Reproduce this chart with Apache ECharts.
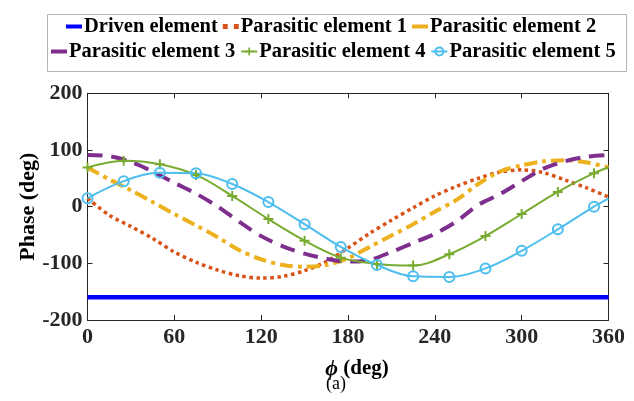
<!DOCTYPE html>
<html>
<head>
<meta charset="utf-8">
<script src="https://cdn.jsdelivr.net/npm/echarts@6/dist/echarts.min.js"></script>
<style>
  html, body { margin: 0; padding: 0; background: #fff; }
  #chart { width: 634px; height: 401px; }
</style>
</head>
<body>
<div id="chart"></div>
<script>
// phase vs. steering angle
const phiEnds = [0, 360]
const phiFine = [0, 15, 30, 45, 60, 75, 90, 105, 120, 135, 150, 165, 180, 195, 210, 225, 240, 255, 270, 285, 300, 315, 330, 345, 360]
const phiMarked = [0, 25, 50, 75, 100, 125, 150, 175, 200, 225, 250, 275, 300, 325, 350, 360]

const driven = [-160, -160]
const parasitic1 = [15, -15, -35, -56, -80, -98, -112, -122, -126, -123, -113, -97, -73, -47, -24, -2, 19, 36, 50, 61, 65, 60, 47, 33, 17]
const parasitic2 = [69, 48, 29, 8, -13, -33, -54, -77, -93, -103, -106, -103, -91, -71, -51, -31, -9, 12, 40, 62, 73, 80, 82, 78, 69]
const parasitic3 = [91, 89, 79, 62, 42, 23, 0, -27, -52, -70, -83, -92, -97, -94, -80, -64, -48, -26, 3, 22, 45, 67, 80, 88, 91]
const parasitic4 = [69, 81, 75, 56, 19, -22, -60, -90, -101, -104, -84, -52, -13, 26, 59, 69]
const parasitic5 = [15, 45, 60, 59, 40, 8, -31, -71, -103, -123, -124, -109, -78, -40, 0, 14]

const xTicks = [0, 60, 120, 180, 240, 300, 360]
const yTicks = [-200, -100, 0, 100, 200]

const seriesNames = ['Driven element', 'Parasitic element 1', 'Parasitic element 2',
  'Parasitic element 3', 'Parasitic element 4', 'Parasitic element 5']

const FONT = "'Liberation Serif', 'Times New Roman', serif"
const INK = '#262626'
const PLUS = 'path://M4,0H6V4H10V6H6V10H4V6H0V4H4Z'
const BAR = 'path://M0,0H16V4H0Z'
const DOTS = 'path://M0,0H4V4H0Z M9,0H13V4H9Z'

function pairs(xs, ys) {
  return xs.map((x, i) => [x, ys[i]])
}

// markers every 25 deg, none on the closing 360 point
function marked(xs, ys) {
  return xs.map((x, i) => x === 360 ? { value: [x, ys[i]], symbol: 'none' } : [x, ys[i]])
}

const chart = echarts.init(document.getElementById('chart'))

const legendText = { fontFamily: FONT, fontWeight: 'bold', fontSize: 20.5, color: '#000', padding: [0, 0, 0, -3] }

function axisBox(extra) {
  return Object.assign({
    axisLine: { show: true, onZero: false, lineStyle: { color: INK, width: 1 } },
    axisTick: { show: true, inside: true, length: 5, lineStyle: { color: INK } },
    splitLine: { show: false }
  }, extra)
}

chart.setOption({
  backgroundColor: '#fff',
  animation: false,
  textStyle: { fontFamily: FONT },
  legend: [
    {
      data: [
        { name: seriesNames[0], icon: BAR },
        { name: seriesNames[1], icon: DOTS },
        { name: seriesNames[2], icon: BAR }
      ],
      left: 66, top: 16, padding: 0,
      itemWidth: 16, itemHeight: 10, itemGap: 5,
      textStyle: legendText
    },
    {
      data: [
        { name: seriesNames[3], icon: BAR },
        { name: seriesNames[4] },
        { name: seriesNames[5] }
      ],
      left: 51, top: 41, padding: 0,
      itemWidth: 16, itemHeight: 10, itemGap: 5,
      textStyle: legendText
    }
  ],
  grid: { left: 87.5, right: 25.5, top: 93.3, bottom: 81 },
  xAxis: [
    axisBox({
      type: 'value', min: xTicks[0], max: xTicks[xTicks.length - 1], interval: 60,
      name: '{phi|ϕ} (deg)',
      nameLocation: 'middle', nameGap: 38, nameMoveOverlap: false,
      nameTextStyle: {
        fontFamily: FONT, fontWeight: 'bold', fontSize: 21, color: '#000', padding: [0, 0, 0, 18],
        rich: { phi: { fontFamily: FONT, fontStyle: 'italic', fontSize: 22, color: '#000' } }
      },
      axisLabel: { margin: 6, fontFamily: FONT, fontWeight: 'bold', fontSize: 22, color: INK }
    }),
    axisBox({
      type: 'value', position: 'top', min: 0, max: 360, interval: 60,
      axisLabel: { show: false }
    })
  ],
  yAxis: [
    axisBox({
      type: 'value', min: yTicks[0], max: yTicks[yTicks.length - 1], interval: 100,
      name: 'Phase (deg)',
      nameLocation: 'middle', nameGap: 48, nameMoveOverlap: false,
      nameTextStyle: { fontFamily: FONT, fontWeight: 'bold', fontSize: 22, color: '#000' },
      axisLabel: { margin: 5, fontFamily: FONT, fontWeight: 'bold', fontSize: 22, color: INK }
    }),
    axisBox({
      type: 'value', position: 'right', min: -200, max: 200, interval: 100,
      axisLabel: { show: false }
    })
  ],
  graphic: [
    {
      type: 'rect', left: 45, top: 12, silent: true,
      shape: { width: 579, height: 57 },
      style: { fill: 'none', stroke: '#b4b4b4', lineWidth: 1 }
    },
    {
      type: 'text', left: 326, top: 375,
      style: { text: '(a)', font: "18px 'Liberation Serif', serif", fill: '#000' }
    }
  ],
  series: [
    {
      name: seriesNames[0], type: 'line', symbol: 'none',
      data: pairs(phiEnds, driven),
      lineStyle: { color: '#0000ff', width: 4.5 },
      itemStyle: { color: '#0000ff' }
    },
    {
      name: seriesNames[1], type: 'line', symbol: 'none', smooth: 0.3,
      data: pairs(phiFine, parasitic1),
      lineStyle: { color: '#D95319', width: 3.5, type: [3.5, 3.5] },
      itemStyle: { color: '#D95319' }
    },
    {
      name: seriesNames[2], type: 'line', symbol: 'none', smooth: 0.3,
      data: pairs(phiFine, parasitic2),
      lineStyle: { color: '#EDB120', width: 4, type: [13, 5, 4, 5] },
      itemStyle: { color: '#EDB120' }
    },
    {
      name: seriesNames[3], type: 'line', symbol: 'none', smooth: 0.3,
      data: pairs(phiFine, parasitic3),
      lineStyle: { color: '#7E2F8E', width: 4, type: [15, 9] },
      itemStyle: { color: '#7E2F8E' }
    },
    {
      name: seriesNames[4], type: 'line', smooth: 0.35,
      symbol: PLUS, symbolSize: 10,
      data: marked(phiMarked, parasitic4),
      lineStyle: { color: '#77AC30', width: 2 },
      itemStyle: { color: '#77AC30' }
    },
    {
      name: seriesNames[5], type: 'line', smooth: 0.35,
      symbol: 'circle', symbolSize: 10,
      data: marked(phiMarked, parasitic5),
      lineStyle: { color: '#4DBEEE', width: 2 },
      itemStyle: { color: 'rgba(0,0,0,0)', borderColor: '#4DBEEE', borderWidth: 2 }
    }
  ]
})
</script>
</body>
</html>
